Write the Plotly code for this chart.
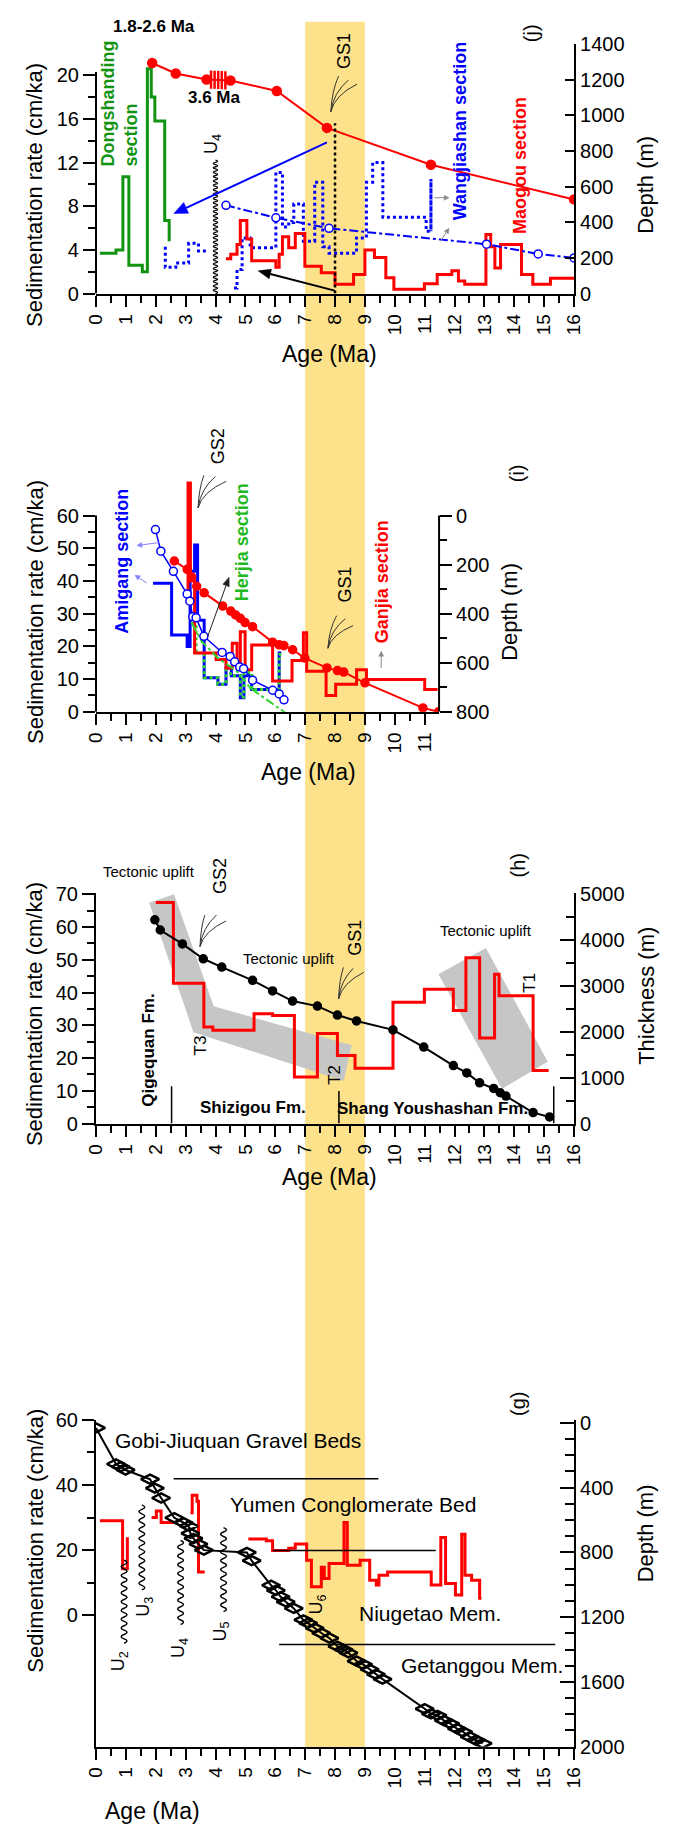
import math
import plotly.graph_objects as go

W, H = 680, 1838
FONT = "Liberation Sans, Arial, sans-serif"
RED = "#ff0000"
BLUE = "#0000ff"
DGREEN = "#129412"
LGREEN = "#2fd42f"
GREYFILL = "#c6c6c6"

# ---------------- data ----------------
age_ticks = list(range(0, 17))

# panel (j)
j_dong_x = [0.13, 0.67, 0.9, 1.1, 1.55, 1.72, 1.85, 1.97, 2.3, 2.45]
j_dong_rate = [3.7, 4.0, 10.7, 2.6, 2.0, 20.6, 18.0, 15.8, 6.7, 4.8]
j_wang_a_x = [2.32, 2.32, 2.67, 3.1, 3.43, 3.7]
j_wang_a_rate = [4.3, 2.4, 2.8, 4.6, 3.9, 3.9]
j_wang_b_x = [4.62, 4.72, 4.89, 5.16, 6.02, 6.24, 6.45, 6.62, 6.94, 7.32, 7.59, 7.8, 8.72, 9.05, 9.26, 9.6, 11.05, 11.21, 11.21]
j_wang_b_rate = [0.5, 2.2, 5.1, 4.2, 11.1, 6.1, 6.5, 8.2, 4.8, 10.2, 4.3, 3.7, 5.1, 10.2, 12.0, 7.0, 5.7, 10.5, 5.7]
j_wang_depth_x = [4.35, 6.02, 7.8, 13.07, 14.8, 16.0]
j_wang_depth = [495, 425, 366, 277, 222, 200]
j_mao_depth_x = [1.88, 2.67, 3.7, 4.5, 6.05, 7.73, 11.21, 16.0]
j_mao_depth = [1293, 1234, 1200, 1195, 1136, 929, 722, 528]
j_mao_break_x = [3.85, 3.97, 4.09, 4.21, 4.33]
j_mao_break_depth = [1200, 1199, 1198, 1197, 1196]
j_mao_x = [4.35, 4.51, 4.72, 4.83, 5.05, 5.21, 6.02, 6.13, 6.24, 6.45, 6.67, 6.99, 7.54, 8.0, 8.62, 9.0,
           9.32, 9.7, 9.97, 10.99, 11.42, 11.91, 12.13, 12.34, 13.05, 13.21, 13.35, 13.54, 14.24, 14.62, 15.21, 16.0]
j_mao_rate = [3.2, 3.6, 4.5, 6.7, 5.0, 3.0, 2.4, 3.6, 5.2, 4.2, 5.5, 2.5, 1.9, 0.85, 1.75, 4.0,
              3.3, 1.45, 0.4, 0.9, 1.75, 2.1, 1.15, 0.85, 5.4, 4.3, 2.35, 4.5, 1.75, 0.85, 1.4, 1.4]

# panel (i)
i_age_ticks = list(range(0, 12))
i_ganjia_depth_x = [2.62, 3.05, 3.2, 3.37, 3.62, 4.24, 4.51, 4.67, 4.83, 4.99, 5.24, 5.91, 6.13, 6.29, 6.58,
                    6.99, 7.73, 8.08, 8.29, 9.0, 10.94, 11.46]
i_ganjia_depth = [185, 219, 250, 288, 315, 369, 389, 405, 419, 436, 453, 516, 527, 530, 547,
                  581, 621, 632, 638, 682, 784, 800]
i_ganjia_x = [3.08, 3.08, 3.16, 3.3, 4.02, 4.35, 4.56, 4.72, 4.83, 4.99, 5.21, 5.91, 6.56, 6.94, 7.05,
              7.7, 8.02, 8.72, 9.05, 11.0, 11.43]
i_ganjia_rate = [35, 70, 40, 18, 16, 13.4, 21, 13.4, 24.5, 12.9, 20.4, 9.4, 15.7, 24.2, 12.4,
                 5, 8.4, 12.9, 9.9, 6.8, 6.8]
i_amig_x = [1.91, 2.53, 3.05, 3.15, 3.3, 3.4, 3.62, 4.08, 4.35, 4.53, 4.83, 4.95, 5.21, 5.95, 6.13, 6.2]
i_amig_rate = [39.3, 23.5, 20, 43, 51, 28, 10.4, 8.4, 13.4, 11, 4.3, 11, 6.8, 6.8, 18, 18]
i_amig_depth_x = [1.99, 2.17, 2.59, 3.05, 3.14, 3.24, 3.35, 3.61, 4.22, 4.49, 4.64, 4.81, 4.94, 5.24,
                  5.91, 6.13, 6.29]
i_amig_depth = [57, 145, 227, 320, 349, 412, 416, 492, 558, 574, 596, 617, 624, 671, 712, 727, 751]
i_herjia_x = [3.21, 3.35, 3.62, 4.08, 4.35, 4.5, 4.83, 4.95, 5.21, 5.95, 6.13, 6.2]
i_herjia_rate = [27, 18, 10.4, 8.4, 13.4, 11, 4.5, 12, 6.8, 6.8, 17.5, 17.5]
i_herjia_depth_x = [3.21, 3.54, 4.08, 4.72, 5.16, 6.35]
i_herjia_depth = [439, 513, 581, 635, 703, 805]

# panel (h)
h_thick_x = [1.97, 2.15, 2.89, 3.59, 4.21, 5.24, 5.91, 6.58, 7.41, 8.08, 8.72, 9.94, 10.97, 11.96,
             12.41, 12.84, 13.31, 13.53, 13.72, 14.63, 15.18]
h_thick = [4444, 4221, 3918, 3593, 3413, 3124, 2893, 2670, 2561, 2366, 2237, 2042, 1667, 1263,
           1104, 887, 765, 671, 599, 238, 144]
h_rate_x = [2.0, 2.59, 3.61, 3.91, 5.29, 5.91, 6.64, 7.41, 8.08, 8.67, 9.94, 10.99, 11.96, 12.38,
            12.84, 13.34, 13.49, 14.63, 15.15]
h_rate = [67.5, 42.8, 29.5, 28.5, 33.5, 33, 14.2, 27.5, 20.8, 16.9, 37, 41, 34.5, 50.6,
          26.1, 45.6, 39, 16.2, 16.2]
h_band1_x = [1.78, 2.61, 3.94, 8.56, 8.29, 3.26, 1.78]
h_band1_y = [67.4, 70.0, 35.8, 23.9, 13.0, 27.9, 67.4]
h_band2_x = [11.46, 13.05, 15.12, 13.59, 11.46]
h_band2_y = [45.6, 53.6, 18.9, 10.6, 45.6]
h_fm_x = [2.53, 8.13, 15.32]
h_fm_top = [11.4, 9.9, 11.4]

# panel (g)
g_depth_x = [0.0, 0.67, 0.83, 0.99, 1.81, 1.97, 2.18, 2.62, 2.94, 3.10, 3.16, 3.26, 3.43, 3.61, 5.05, 5.21,
             5.86, 6.02, 6.18, 6.35, 6.62, 6.94, 7.10, 7.32, 7.54, 7.81, 8.08, 8.29, 8.45, 8.72, 8.94,
             9.16, 9.37, 9.59, 11.0, 11.21, 11.43, 11.64, 11.86, 12.08, 12.29, 12.51, 12.72, 12.94]
g_depth = [31, 254, 271, 291, 348, 403, 464, 586, 617, 637, 682, 714, 749, 786, 800, 851,
           1003, 1034, 1074, 1105, 1146, 1217, 1237, 1268, 1298, 1329, 1380, 1400, 1420, 1471, 1492,
           1522, 1553, 1583, 1766, 1797, 1807, 1838, 1858, 1888, 1909, 1939, 1960, 1980]
g_r1_x = [0.13, 0.89, 1.05]
g_r1_rate = [29, 14.3, 24]
g_r2_x = [1.86, 2.02, 2.18, 2.67]
g_r2_rate = [30, 32, 28.5, 28.5]
g_r3_x = [3.16, 3.22, 3.38, 3.43, 3.64]
g_r3_rate = [31.5, 36.8, 35, 13.3, 13.3]
g_r4_x = [5.1, 5.7, 5.91, 6.45, 6.67, 7.05, 7.21, 7.54, 7.64, 7.8, 8.3, 8.41, 8.84, 9.16, 9.38, 9.47,
          9.76, 11.22, 11.54, 11.7, 12.03, 12.24, 12.35, 12.57, 12.84, 12.9]
g_r4_rate = [23.4, 22.9, 19.9, 20.6, 21.9, 16.9, 8.8, 14.8, 11.3, 15.9, 28.5, 15.4, 16.9, 10.8, 9.3, 12.3,
             13.3, 9.3, 23.9, 9.8, 6.3, 24.9, 12.3, 10.8, 5.3, 5.3]
g_bound_x0 = [2.6, 5.92, 6.13]
g_bound_x1 = [9.45, 11.37, 15.37]
g_bound_y = [41.9, 19.9, -8.9]


# ---------------- helpers ----------------
def px(x):
    return x / W


def py(y):
    return 1 - y / H


annotations = []
shapes = []


def txt(s, x, y, size=18, color="black", bold=False, angle=0, xanchor="center", align="center"):
    annotations.append(dict(text=("<b>%s</b>" % s if bold else s), x=px(x), y=py(y), xref="paper",
                            yref="paper", showarrow=False, textangle=angle, xanchor=xanchor,
                            yanchor="middle", align=align,
                            font=dict(size=size, color=color, family=FONT)))


def arrow(xh, yh, xt, yt, color, width=1.5, hl=8, hw=4):
    dx, dy = xh - xt, yh - yt
    L = math.hypot(dx, dy)
    ux, uy = dx / L, dy / L
    nx, ny = -uy, ux
    bx, by = xh - hl * ux, yh - hl * uy
    shapes.append(dict(type="line", xref="paper", yref="paper", x0=px(xt), y0=py(yt), x1=px(bx), y1=py(by),
                       line=dict(color=color, width=width)))
    p = "M %f,%f L %f,%f L %f,%f Z" % (px(xh), py(yh), px(bx + hw * nx), py(by + hw * ny),
                                       px(bx - hw * nx), py(by - hw * ny))
    shapes.append(dict(type="path", xref="paper", yref="paper", path=p, fillcolor=color,
                       line=dict(color=color, width=0.5)))


def fan(base, tips, color="#333333"):
    bx, by = base
    for (tx, ty) in tips:
        cx, cy = bx + (tx - bx) * 0.15, by - (by - ty) * 0.6
        shapes.append(dict(type="path", xref="paper", yref="paper",
                           path="M %f,%f Q %f,%f %f,%f" % (px(bx), py(by), px(cx), py(cy), px(tx), py(ty)),
                           line=dict(color=color, width=1)))


def wave(x, ybot, ytop, amp, half, width=1.5):
    n = max(1, int(round(abs(ybot - ytop) / half)))
    stp = (ytop - ybot) / n
    p = "M %f,%f" % (px(x), py(ybot))
    for k in range(n):
        sgn = 1 if k % 2 == 0 else -1
        p += " Q %f,%f %f,%f" % (px(x + 2 * amp * sgn), py(ybot + (k + 0.5) * stp),
                                 px(x), py(ybot + (k + 1) * stp))
    shapes.append(dict(type="path", xref="paper", yref="paper", path=p,
                       line=dict(color="black", width=width)))


fig = go.Figure()


def step(x, y, xa, ya, color, width=3, dash="solid"):
    fig.add_trace(go.Scatter(x=x, y=y, xaxis=xa, yaxis=ya, mode="lines", line_shape="hv",
                             line=dict(color=color, width=width, dash=dash), hoverinfo="skip"))


def dline(x, y, xa, ya, color, width=2, dash="solid", symbol="circle", msize=8, mfill=None, mlw=1.5):
    fig.add_trace(go.Scatter(x=x, y=y, xaxis=xa, yaxis=ya, mode="lines+markers",
                             line=dict(color=color, width=width, dash=dash),
                             marker=dict(symbol=symbol, size=msize, color=mfill or color,
                                         line=dict(color=color, width=mlw)), hoverinfo="skip"))


# ---------------- panel (j) ----------------
step(j_dong_x, j_dong_rate, "x", "y", DGREEN, 3)
step(j_wang_a_x, j_wang_a_rate, "x", "y", BLUE, 3, "dot")
step(j_wang_b_x, j_wang_b_rate, "x", "y", BLUE, 3, "dot")
step(j_mao_x, j_mao_rate, "x", "y", RED, 3)
dline(j_wang_depth_x, j_wang_depth, "x", "y2", BLUE, 2, "dashdot", "circle", 8, "white")
dline(j_mao_depth_x, j_mao_depth, "x", "y2", RED, 2, "solid", "circle", 9)
fig.add_trace(go.Scatter(x=j_mao_break_x, y=j_mao_break_depth, xaxis="x", yaxis="y2", mode="markers",
                         marker=dict(symbol="line-ns", size=13, line=dict(color=RED, width=2.5)),
                         hoverinfo="skip"))

# ---------------- panel (i) ----------------
step(i_amig_x, i_amig_rate, "x2", "y3", BLUE, 3)
step(i_herjia_x, i_herjia_rate, "x2", "y3", LGREEN, 3, "dot")
step(i_ganjia_x, i_ganjia_rate, "x2", "y3", RED, 3)
dline(i_herjia_depth_x, i_herjia_depth, "x2", "y4", LGREEN, 2, "dashdot", "circle", 1)
dline(i_ganjia_depth_x, i_ganjia_depth, "x2", "y4", RED, 2, "solid", "circle", 8)
dline(i_amig_depth_x, i_amig_depth, "x2", "y4", BLUE, 1.5, "solid", "circle", 8, "white")

# ---------------- panel (h) ----------------
for bx, byy in ((h_band1_x, h_band1_y), (h_band2_x, h_band2_y)):
    fig.add_trace(go.Scatter(x=bx, y=byy, xaxis="x3", yaxis="y5", mode="lines", fill="toself",
                             fillcolor=GREYFILL, line=dict(width=0, color=GREYFILL), hoverinfo="skip"))
step(h_rate_x, h_rate, "x3", "y5", RED, 3)
dline(h_thick_x, h_thick, "x3", "y6", "black", 2, "solid", "circle", 8)

# ---------------- panel (g) ----------------
dline(g_depth_x, g_depth, "x4", "y8", "black", 2, "solid", "diamond-wide-open", 13, None, 2.5)
for gx, gy in ((g_r1_x, g_r1_rate), (g_r2_x, g_r2_rate), (g_r3_x, g_r3_rate), (g_r4_x, g_r4_rate)):
    step(gx, gy, "x4", "y7", RED, 3)

# ---------------- shapes ----------------
shapes.append(dict(type="rect", xref="x", yref="paper", x0=7, x1=9, y0=py(1757), y1=py(11),
                   fillcolor="#FDE18B", line=dict(width=0), layer="below"))
shapes.append(dict(type="line", xref="x domain", yref="y", x0=0, x1=0, y0=0, y1=20.3,
                   line=dict(color="black", width=2)))
shapes.append(dict(type="line", xref="x2 domain", yref="y3", x0=0, x1=0, y0=0, y1=60,
                   line=dict(color="black", width=2)))
shapes.append(dict(type="line", xref="x2 domain", yref="y4", x0=1, x1=1, y0=0, y1=800,
                   line=dict(color="black", width=2)))
shapes.append(dict(type="line", xref="x", yref="y", x0=8, x1=8, y0=0, y1=15.6,
                   line=dict(color="black", width=2.5, dash="dot")))
for fx, ft in zip(h_fm_x, h_fm_top):
    shapes.append(dict(type="line", xref="x3", yref="y5", x0=fx, x1=fx, y0=0, y1=ft,
                       line=dict(color="black", width=1.5)))
for a, b, yv in zip(g_bound_x0, g_bound_x1, g_bound_y):
    shapes.append(dict(type="line", xref="x4", yref="y7", x0=a, x1=b, y0=yv, y1=yv,
                       line=dict(color="black", width=1.5)))
wave(211, 286, 151, 2.2, 2.2, 1.3)
wave(116.7, 1652, 1568, 3, 4.5)
wave(135, 1598, 1512, 3, 4.5)
wave(175, 1633, 1548, 3, 4.5)
wave(219.3, 1620, 1535, 3, 4.5)
fan((330, 102), [(338, 66), (348, 70), (357, 74)])
fan((193, 503), [(199, 470), (211, 471), (222, 476)])
fan((327, 645), [(336, 612), (345, 615), (353, 622)])
fan((195, 947), [(200, 915), (212, 915), (222, 921)])
fan((338, 1000), [(343, 968), (353, 969), (364, 973)])

# arrows
arrow(168, 205, 326, 133, BLUE, 2, 14, 6)
arrow(255, 263, 334, 283, "black", 2, 13, 5)
arrow(452, 189, 437, 189, "#888888", 1, 5, 2.5)
arrow(452, 220, 443, 233, "#888888", 1, 5, 2.5)
arrow(382, 648, 382, 665, "#888888", 1, 5, 2.5)
arrow(130, 541, 153, 538, "#8080ff", 1, 5, 2.5)
arrow(128, 571, 140, 579, "#8080ff", 1, 5, 2.5)
arrow(225, 573, 203, 633, "#222222", 1, 9, 3.5)

# ---------------- texts ----------------
txt("Sedimentation rate (cm/ka)", 25, 186, 22, angle=-90)
txt("Depth (m)", 655, 176, 22, angle=-90)
txt("Age (Ma)", 329, 347, 23)
txt("1.8-2.6 Ma", 148, 16, 17, bold=True)
txt("3.6 Ma", 210, 88, 17, bold=True)
txt("Dongshanding<br>section", 112, 94, 18, DGREEN, True, -90, align="left")
txt("Wangjiashan section", 463, 122, 18, BLUE, True, -90)
txt("Maogou section", 525, 156, 18, RED, True, -90)
txt("GS1", 343, 40, 18, angle=-90)
txt("U<sub>4</sub>", 208, 135, 18, angle=-90)
txt("(j)", 536, 22, 20, angle=-90)

txt("Sedimentation rate (cm/ka)", 25, 608, 22, angle=-90)
txt("Depth (m)", 515, 608, 22, angle=-90)
txt("Age (Ma)", 307, 770, 23)
txt("(i)", 523, 468, 20, angle=-90)
txt("GS2", 213, 440, 18, angle=-90)
txt("GS1", 345, 580, 18, angle=-90)
txt("Amigang section", 115, 557, 18, BLUE, True, -90)
txt("Herjia section", 238, 538, 18, "#22b822", True, -90)
txt("Ganjia section", 383, 578, 18, RED, True, -90)

txt("Sedimentation rate (cm/ka)", 25, 1015, 22, angle=-90)
txt("Thickness (m)", 655, 997, 22, angle=-90)
txt("Age (Ma)", 329, 1180, 23)
txt("(h)", 523, 865, 20, angle=-90)
txt("Tectonic uplift", 142.5, 871, 15)
txt("Tectonic uplift", 287, 959, 15)
txt("Tectonic uplift", 490, 931, 15)
txt("GS2", 215, 875, 18, angle=-90)
txt("GS1", 355, 938, 18, angle=-90)
txt("Qigequan Fm.", 141.7, 1052, 17, bold=True, angle=-90)
txt("Shizigou Fm.", 249.5, 1110, 17, bold=True)
txt("Shang Youshashan Fm.", 435, 1111, 17, bold=True)
txt("T3", 195, 1047, 17, angle=-90)
txt("T2", 333, 1077, 17, angle=-90)
txt("T1", 535, 983, 17, angle=-90)

txt("Sedimentation rate (cm/ka)", 25, 1548, 22, angle=-90)
txt("Depth (m)", 655, 1541, 22, angle=-90)
txt("Age (Ma)", 146, 1822, 23)
txt("(g)", 523, 1410, 20, angle=-90)
txt("Gobi-Jiuquan Gravel Beds", 105, 1447, 21, xanchor="left")
txt("Yumen Conglomerate Bed", 224, 1512, 21, xanchor="left")
txt("Niugetao Mem.", 357, 1622, 21, xanchor="left")
txt("Getanggou Mem.", 400, 1675, 21, xanchor="left")
txt("U<sub>2</sub>", 111.7, 1670, 18, angle=-90)
txt("U<sub>3</sub>", 138.3, 1615, 18, angle=-90)
txt("U<sub>4</sub>", 173.3, 1657, 18, angle=-90)
txt("U<sub>5</sub>", 216.7, 1640, 18, angle=-90)
txt("U<sub>6</sub>", 316.7, 1613, 18, angle=-90)

# ---------------- axes ----------------
tickfont_x = dict(size=19, family=FONT, color="black")
tickfont_y = dict(size=20, family=FONT, color="black")


def xax(dom_right, rng, ticks, anchor):
    half = [t + 0.5 for t in ticks if t + 0.5 <= rng[1] + 1e-9]
    return dict(domain=[px(87.7), px(dom_right)], range=rng, anchor=anchor, showgrid=False, zeroline=False,
                showline=True, linecolor="black", linewidth=2, ticks="outside", ticklen=11, tickwidth=2,
                tickcolor="black", tickangle=-90, tickfont=tickfont_x, tickmode="array", tickvals=ticks,
                ticktext=[str(t) for t in ticks],
                minor=dict(tickmode="array", tickvals=half, ticks="outside", ticklen=7, tickwidth=2,
                           tickcolor="black"))


def yax(rng, ticks, minor_ticks, anchor, side="left", tickpos="outside", tlen=12, mlen=7, showline=True,
        domain=None, overlaying=None):
    d = dict(range=rng, anchor=anchor, side=side, showgrid=False, zeroline=False, showline=showline,
             linecolor="black", linewidth=2, ticks=tickpos, ticklen=tlen, tickwidth=2, tickcolor="black",
             tickfont=tickfont_y, tickmode="array", tickvals=ticks, ticktext=[str(t) for t in ticks],
             minor=dict(tickmode="array", tickvals=minor_ticks, ticks=tickpos, ticklen=mlen, tickwidth=2,
                        tickcolor="black"))
    if domain is not None:
        d["domain"] = domain
    if overlaying is not None:
        d["overlaying"] = overlaying
    return d


layout = dict(
    width=W, height=H, margin=dict(l=0, r=0, t=0, b=0), showlegend=False,
    paper_bgcolor="white", plot_bgcolor="rgba(0,0,0,0)",
    font=dict(family=FONT, color="black"),
    xaxis=xax(581, [0, 16], age_ticks, "y"),
    yaxis=yax([0, 22.87], [0, 4, 8, 12, 16, 20], [2, 6, 10, 14, 18], "x", showline=False,
              domain=[py(286), py(33.3)]),
    yaxis2=yax([0, 1400], [0, 200, 400, 600, 800, 1000, 1200, 1400], [], "x", side="right",
               tickpos="inside", tlen=9, overlaying="y"),
    xaxis2=xax(441.7, [0, 11.48], i_age_ticks, "y3"),
    yaxis3=yax([0, 70.8], [0, 10, 20, 30, 40, 50, 60], [5, 15, 25, 35, 45, 55], "x2", showline=False,
               domain=[py(709.3), py(475)]),
    yaxis4=yax([800, -144], [0, 200, 400, 600, 800], [100, 300, 500, 700], "x2", side="right",
               tickpos="outside", tlen=12, showline=False, overlaying="y3"),
    xaxis3=xax(581, [0, 16], age_ticks, "y5"),
    yaxis5=yax([0, 70.3], [0, 10, 20, 30, 40, 50, 60, 70], [5, 15, 25, 35, 45, 55, 65], "x3",
               domain=[py(1126), py(893)]),
    yaxis6=yax([0, 5021], [0, 1000, 2000, 3000, 4000, 5000], [500, 1500, 2500, 3500, 4500], "x3",
               side="right", tickpos="inside", tlen=14, mlen=8, overlaying="y5"),
    xaxis4=xax(581, [0, 16], age_ticks, "y7"),
    yaxis7=yax([-40.2, 60], [0, 20, 40, 60], [10, 30, 50], "x4", domain=[py(1756.7), py(1425.7)]),
    yaxis8=yax([2000, -20], [0, 400, 800, 1200, 1600, 2000],
               [100, 200, 300, 500, 600, 700, 900, 1000, 1100, 1300, 1400, 1500, 1700, 1800, 1900],
               "x4", side="right", tickpos="inside", tlen=14, mlen=9, overlaying="y7"),
    annotations=annotations, shapes=shapes,
)
fig.update_layout(**layout)
fig.write_html("out.html")
